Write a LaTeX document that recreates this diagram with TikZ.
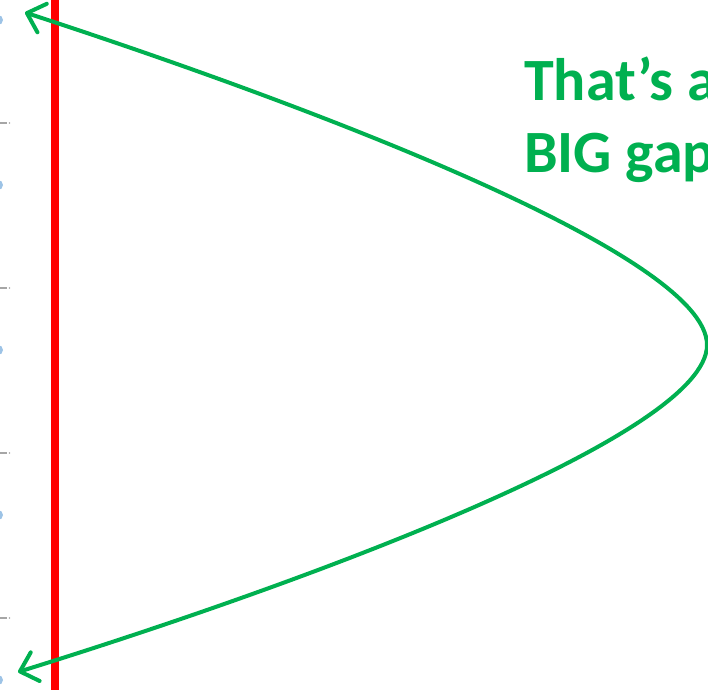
\documentclass[tikz,border=0pt]{standalone}
\usepackage{fontspec}
\setmainfont{Carlito}
\usetikzlibrary{arrows.meta}
\definecolor{offgreen}{HTML}{00B050}
\definecolor{dotblue}{HTML}{9DC3E6}
\tikzset{
  gapcurve/.style={draw=offgreen, line width=4pt, {Straight Barb[length=16pt,width=30pt,line cap=round,line join=round]}-{Straight Barb[length=16pt,width=30pt,line cap=round,line join=round]}},
  redline/.style={draw=red, line width=8pt},
  gaptext/.style={text=offgreen, font=\bfseries\fontsize{60}{72}\selectfont, inner sep=0pt, anchor=base west},
  blip/.style={fill=dotblue, draw=none},
  tick/.style={draw=gray!70, line width=1.5pt}
}
\begin{document}
\begin{tikzpicture}[x=1pt,y=-1pt]
  \useasboundingbox (0,0) rectangle (708,690);
  \clip (0,0) rectangle (708,690);
  % left margin marks
  \foreach \yy in {20,185,350,515,680}{
    \fill[blip] (-2,\yy) circle (5);
  }
  \foreach \yy in {123,288,453,618}{
    \draw[tick] (0,\yy) -- (7,\yy);
    \fill[gray!70] (9.5,\yy) circle (0.9);
  }
  % red line
  \coordinate (rtop) at (54.5,0);
  \coordinate (rbot) at (54.5,690);
  \draw[redline] (rtop) -- (rbot);
  % green curve
  \coordinate (top) at (25,12.5);
  \coordinate (vtx) at (707,345);
  \coordinate (bot) at (18,672);
  \draw[gapcurve] (top) .. controls (310,105.5) and (707,255) .. (vtx)
                        .. controls (707,435) and (304.5,583) .. (bot);
  % text
  \node[gaptext] (t1) at (524,100) {That’s a};
  \node[gaptext] (t2) at (524,172) {BIG gap};
\end{tikzpicture}
\end{document}
